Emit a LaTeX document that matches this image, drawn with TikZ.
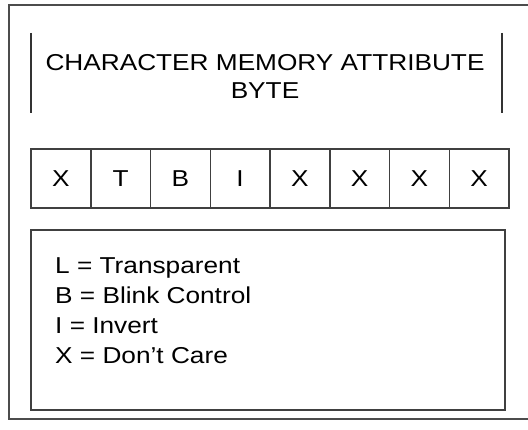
\documentclass[tikz,border=0pt]{standalone}
\usepackage{fontspec}
\setmainfont{Liberation Sans}[FakeStretch=1.14]
\begin{document}
\begin{tikzpicture}[x=1pt,y=-1pt,
  frame/.style={draw=black!70, line width=2pt},
  bitcell/.style={draw=black!75, line width=1.5pt, minimum width=59.75pt, minimum height=59pt, anchor=north west, inner sep=0pt, outer sep=0pt, font=\fontsize{23}{26}\selectfont, text=black},
  titletext/.style={font=\fontsize{23}{28}\selectfont, align=center, text=black},
  legendtext/.style={font=\fontsize{23}{30}\selectfont, align=left, anchor=north west, text=black, inner sep=0pt}]
\useasboundingbox (0,0) rectangle (528,430);
\clip (0,0) rectangle (528,430);
\fill[white] (0,0) rectangle (528,430);
% outer frame
\draw[frame] (540,5) -- (9,5) -- (9,419) -- (540,419);
% title
\coordinate (tl1) at (31,33);
\coordinate (tl2) at (31,113);
\coordinate (tr1) at (502,33);
\coordinate (tr2) at (502,113);
\draw[black!80, line width=2pt] (tl1) -- (tl2);
\draw[black!80, line width=2pt] (tr1) -- (tr2);
\node[titletext] (title) at (265,76) {CHARACTER MEMORY ATTRIBUTE\\BYTE};
% bits
\node[bitcell] (b0) at (31,149) {X};
\node[bitcell] (b1) at (b0.north east) {T};
\node[bitcell] (b2) at (b1.north east) {B};
\node[bitcell] (b3) at (b2.north east) {I};
\node[bitcell] (b4) at (b3.north east) {X};
\node[bitcell] (b5) at (b4.north east) {X};
\node[bitcell] (b6) at (b5.north east) {X};
\node[bitcell] (b7) at (b6.north east) {X};
% legend
\node[draw=black!75, line width=2pt, anchor=north west, minimum width=474pt, minimum height=180pt, inner sep=0pt, outer sep=0pt] (legend) at (31,230) {};
\node[legendtext] (ltext) at (55,257) {L = Transparent\\B = Blink Control\\I = Invert\\X = Don{\char"0027}t Care};
\end{tikzpicture}
\end{document}
